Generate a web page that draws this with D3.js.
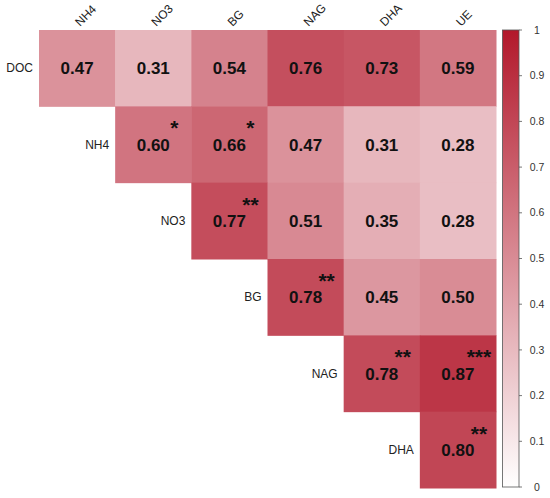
<!DOCTYPE html>
<html>
<head>
<meta charset="utf-8">
<script src="https://cdn.jsdelivr.net/npm/d3@7"></script>
<style>
  body { margin: 0; background: #fff; }
  text { font-family: "Liberation Sans", Arial, sans-serif; }
</style>
</head>
<body>
<div id="chart"></div>
<script>
// column and row variables
const colVars = ["NH4", "NO3", "BG", "NAG", "DHA", "UE"];
const rowVars = ["DOC", "NH4", "NO3", "BG", "NAG", "DHA"];

// correlation values, row by row (upper triangle only, null = empty)
const corrValues = [
    [0.47, 0.31, 0.54, 0.76, 0.73, 0.59],
    [null, 0.60, 0.66, 0.47, 0.31, 0.28],
    [null, null, 0.77, 0.51, 0.35, 0.28],
    [null, null, null, 0.78, 0.45, 0.50],
    [null, null, null, null, 0.78, 0.87],
    [null, null, null, null, null, 0.80]
];

// significance stars
const sigStars = [
    ["", "", "", "", "", ""],
    ["", "*", "*", "", "", ""],
    ["", "", "**", "", "", ""],
    ["", "", "", "**", "", ""],
    ["", "", "", "", "**", "***"],
    ["", "", "", "", "", "**"]
];

const legendTicks = [0, 0.1, 0.2, 0.3, 0.4, 0.5, 0.6, 0.7, 0.8, 0.9, 1];

const width = 550, height = 498;
const gridLeft = 39, gridTop = 30, gridW = 457, gridH = 458;

const svg = d3.select("#chart").append("svg")
    .attr("width", width)
    .attr("height", height);

const x = d3.scaleBand().domain(colVars.map((d, i) => i)).range([gridLeft, gridLeft + gridW]);
const y = d3.scaleBand().domain(rowVars.map((d, i) => i)).range([gridTop, gridTop + gridH]);

const color = d3.scaleLinear().domain([0, 1]).range(["#ffffff", "#b2182b"]);

// flatten cells
let cells = [];
corrValues.forEach((row, r) => {
    row.forEach((v, c) => {
        if (v !== null) cells.push({r: r, c: c, v: v, s: sigStars[r][c]});
    });
});

svg.selectAll("rect.cell")
    .data(cells)
    .enter()
    .append("rect")
    .attr("class", "cell")
    .attr("x", d => x(d.c))
    .attr("y", d => y(d.r))
    .attr("width", x.bandwidth() + 0.5)
    .attr("height", y.bandwidth() + 0.5)
    .attr("fill", d => color(d.v));

svg.selectAll("text.val")
    .data(cells)
    .enter()
    .append("text")
    .attr("class", "val")
    .attr("x", d => x(d.c) + x.bandwidth() / 2)
    .attr("y", d => y(d.r) + y.bandwidth() / 2 + 6)
    .attr("text-anchor", "middle")
    .attr("font-size", 17)
    .attr("font-weight", "bold")
    .attr("fill", "#111")
    .text(d => d.v.toFixed(2));

// stars sit up and to the right of the value
svg.selectAll("text.star")
    .data(cells.filter(d => d.s))
    .enter()
    .append("text")
    .attr("class", "star")
    .attr("x", d => x(d.c) + x.bandwidth() / 2 + 21)
    .attr("y", d => y(d.r) + 29)
    .attr("text-anchor", "middle")
    .attr("font-size", 21)
    .attr("font-weight", "bold")
    .attr("fill", "#111")
    .text(d => d.s);

// column labels, rotated 45 degrees (wrapped in a g so the rotation sticks)
svg.selectAll("g.collab")
    .data(colVars)
    .enter()
    .append("g")
    .attr("class", "collab")
    .attr("transform", (d, i) => `translate(${x(i) + x.bandwidth() / 2 + 3},${gridTop - 3}) rotate(-45)`)
    .append("text")
    .attr("font-size", 12)
    .attr("fill", "#222")
    .text(d => d);

// row labels, right aligned next to the first cell of each row
svg.selectAll("text.rowlab")
    .data(rowVars)
    .enter()
    .append("text")
    .attr("class", "rowlab")
    .attr("x", (d, i) => x(i) - 6)
    .attr("y", (d, i) => y(i) + y.bandwidth() / 2 + 4)
    .attr("text-anchor", "end")
    .attr("font-size", 12)
    .attr("fill", "#222")
    .text(d => d);

// color bar
const barX = 502.5, barW = 16.5;
const ly = d3.scaleLinear().domain([0, 1]).range([gridTop + gridH - 1, gridTop]);

const defs = svg.append("defs");
const grad = defs.append("linearGradient")
    .attr("id", "cbar")
    .attr("x1", 0).attr("y1", 1).attr("x2", 0).attr("y2", 0);
grad.append("stop").attr("offset", "0%").attr("stop-color", color(0));
grad.append("stop").attr("offset", "100%").attr("stop-color", color(1));

svg.append("rect")
    .attr("x", barX)
    .attr("y", gridTop)
    .attr("width", barW)
    .attr("height", gridH - 1)
    .attr("fill", "url(#cbar)")
    .attr("stroke", "#555")
    .attr("stroke-width", 0.8);

svg.selectAll("line.ltick")
    .data(legendTicks)
    .enter()
    .append("line")
    .attr("class", "ltick")
    .attr("x1", barX + barW)
    .attr("x2", barX + barW + 3)
    .attr("y1", d => ly(d))
    .attr("y2", d => ly(d))
    .attr("stroke", "#555")
    .attr("stroke-width", 0.8);

svg.selectAll("text.llab")
    .data(legendTicks)
    .enter()
    .append("text")
    .attr("class", "llab")
    .attr("x", 537)
    .attr("y", d => ly(d))
    .attr("dy", "0.35em")
    .attr("text-anchor", "middle")
    .attr("font-size", 10.5)
    .attr("fill", "#333")
    .text(d => d);
</script>
</body>
</html>
